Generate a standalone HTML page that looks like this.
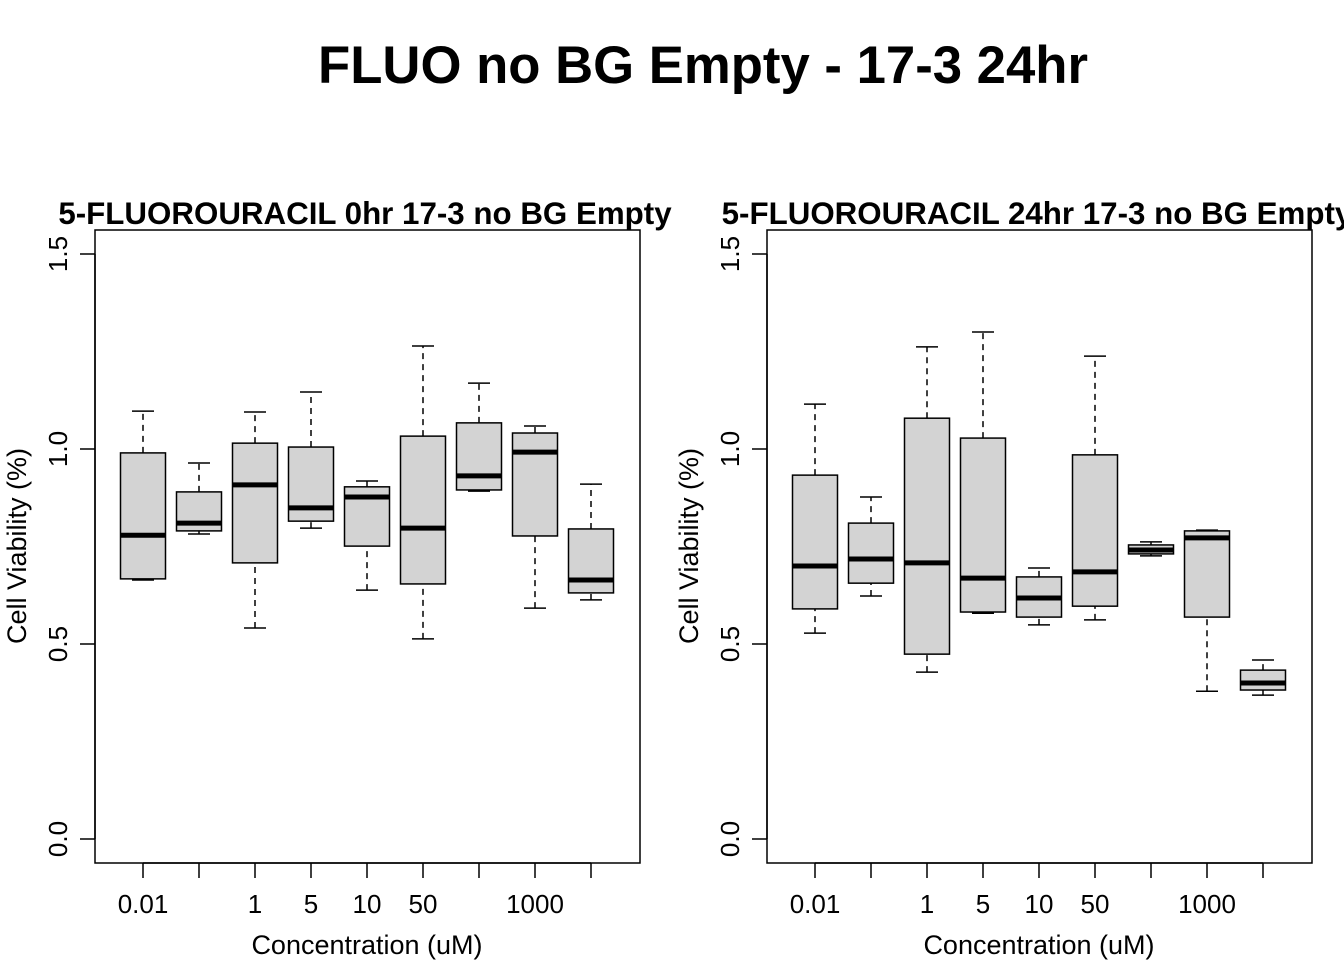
<!DOCTYPE html>
<html><head><meta charset="utf-8"><style>
body{margin:0;background:#fff;}
svg{display:block;font-family:"Liberation Sans",Arial,sans-serif;}
</style></head><body>
<svg id="chart" width="1344" height="960" viewBox="0 0 1344 960" xmlns="http://www.w3.org/2000/svg">
<text x="703" y="83" font-size="52.7" font-weight="bold" text-anchor="middle">FLUO no BG Empty - 17-3 24hr</text>
<g id="panels"></g>
</svg>
<script>
const categories = ["0.01","","1","5","10","50","","1000",""];
const yTicks = [0.0, 0.5, 1.0, 1.5];
const panelTitles = ["5-FLUOROURACIL 0hr 17-3 no BG Empty","5-FLUOROURACIL 24hr 17-3 no BG Empty"];
// [whiskerLow, q1, median, q3, whiskerHigh]
const stats0hr = [
 [0.664,0.667,0.779,0.990,1.097],
 [0.782,0.790,0.810,0.890,0.964],
 [0.541,0.708,0.908,1.015,1.095],
 [0.797,0.815,0.849,1.005,1.146],
 [0.638,0.751,0.877,0.903,0.918],
 [0.513,0.654,0.797,1.033,1.264],
 [0.892,0.895,0.931,1.067,1.169],
 [0.592,0.777,0.992,1.041,1.059],
 [0.613,0.631,0.664,0.795,0.910]
];
const stats24hr = [
 [0.528,0.590,0.700,0.933,1.115],
 [0.623,0.656,0.718,0.810,0.877],
 [0.428,0.474,0.708,1.079,1.262],
 [0.579,0.582,0.669,1.028,1.300],
 [0.549,0.569,0.618,0.672,0.695],
 [0.562,0.597,0.685,0.985,1.238],
 [0.726,0.731,0.741,0.754,0.762],
 [0.379,0.569,0.772,0.790,0.792],
 [0.369,0.382,0.400,0.433,0.459]
];
const NS="http://www.w3.org/2000/svg";
const root=document.getElementById('panels');
function mk(tag,attrs,parent,text){const e=document.createElementNS(NS,tag);for(const k in attrs)e.setAttribute(k,attrs[k]);if(text!==undefined)e.textContent=text;parent.appendChild(e);return e;}
function y(v){return 839-390*v;}
function drawPanel(off,title,stats,idx){
  const g=mk('g',{},root);
  
  
  const x=i=>off+143+56*i;
  const frame=mk('rect',{x:off+95,y:230,width:545,height:633,fill:'none',stroke:'#000','stroke-width':1.5},g);
  
  
  const t=mk('text',{x:off+365,y:224,'font-size':31.3,'font-weight':'bold','text-anchor':'middle'},g,title);
  
  
  mk('line',{x1:off+95,x2:off+95,y1:y(yTicks[0]),y2:y(yTicks[yTicks.length-1]),stroke:'#000','stroke-width':1.5},g);
  yTicks.forEach(v=>{
    mk('line',{x1:off+80,x2:off+95,y1:y(v),y2:y(v),stroke:'#000','stroke-width':1.5},g);
    const tl=mk('text',{x:0,y:0,'font-size':26,'text-anchor':'middle',transform:`translate(${off+67},${y(v)}) rotate(-90)`},g,v.toFixed(1));
    
    
  });
  const yt=mk('text',{x:0,y:0,'font-size':27,'text-anchor':'middle',transform:`translate(${off+26},546) rotate(-90)`},g,'Cell Viability (%)');
  
  
  mk('line',{x1:x(0),x2:x(categories.length-1),y1:863,y2:863,stroke:'#000','stroke-width':1.5},g);
  categories.forEach((c,i)=>{
    mk('line',{x1:x(i),x2:x(i),y1:863,y2:878,stroke:'#000','stroke-width':1.5},g);
    if(c){const tl=mk('text',{x:x(i),y:913,'font-size':26,'text-anchor':'middle'},g,c);
    
    }
  });
  const xt=mk('text',{x:off+367,y:954,'font-size':27,'text-anchor':'middle'},g,'Concentration (uM)');
  
  
  stats.forEach((s,i)=>{
    const b=mk('g',{},g);
    
    
    const cx=x(i);
    mk('line',{x1:cx,x2:cx,y1:y(s[0]),y2:y(s[1]),stroke:'#000','stroke-width':1.5,'stroke-dasharray':'6,5'},b);
    mk('line',{x1:cx,x2:cx,y1:y(s[3]),y2:y(s[4]),stroke:'#000','stroke-width':1.5,'stroke-dasharray':'6,5'},b);
    mk('line',{x1:cx-11,x2:cx+11,y1:y(s[0]),y2:y(s[0]),stroke:'#000','stroke-width':1.5},b);
    mk('line',{x1:cx-11,x2:cx+11,y1:y(s[4]),y2:y(s[4]),stroke:'#000','stroke-width':1.5},b);
    mk('rect',{x:cx-22.5,y:y(s[3]),width:45,height:y(s[1])-y(s[3]),fill:'#d3d3d3',stroke:'#000','stroke-width':1.5},b);
    mk('line',{x1:cx-22.5,x2:cx+22.5,y1:y(s[2]),y2:y(s[2]),stroke:'#000','stroke-width':5},b);
  });
}
drawPanel(0,panelTitles[0],stats0hr,1);
drawPanel(672,panelTitles[1],stats24hr,2);
</script>
</body></html>
